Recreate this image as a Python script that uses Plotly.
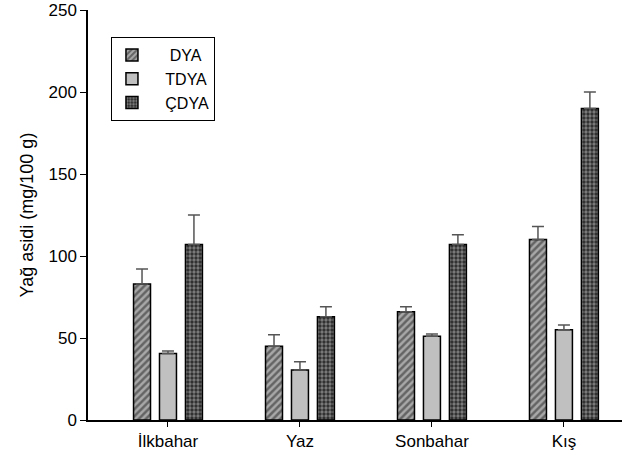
import plotly.graph_objects as go

categories = ["İlkbahar", "Yaz", "Sonbahar", "Kış"]
series_names = ["DYA", "TDYA", "ÇDYA"]
dya = [83, 45, 66, 110]
dya_err = [9, 7, 3, 8]
tdya = [40.5, 30.5, 51, 55]
tdya_err = [1.5, 5, 1.5, 3]
cdya = [107, 63, 107, 190]
cdya_err = [18, 6, 6, 10]

font = "Liberation Sans, Arial, sans-serif"
err_style = dict(type="data", symmetric=False, color="#555555",
                 thickness=1.5, width=6)
NB = "\u00a0"

fig = go.Figure()
fig.add_trace(go.Bar(
    name=NB * 4 + series_names[0], x=categories, y=dya,
    error_y=dict(err_style, array=dya_err),
    marker=dict(color="#a8a8a8", line=dict(color="black", width=1.5),
                pattern=dict(shape="/", fgcolor="#202020", bgcolor="#a8a8a8",
                             size=5, solidity=0.5)),
))
fig.add_trace(go.Bar(
    name=NB * 3 + series_names[1], x=categories, y=tdya,
    error_y=dict(err_style, array=tdya_err),
    marker=dict(color="#c0c0c0", line=dict(color="black", width=1.5)),
))
fig.add_trace(go.Bar(
    name=NB * 3 + series_names[2], x=categories, y=cdya,
    error_y=dict(err_style, array=cdya_err),
    marker=dict(color="#333333", line=dict(color="black", width=1.5),
                pattern=dict(shape=".", fgcolor="#c8c8c8", bgcolor="#2a2a2a",
                             size=4, solidity=0.55)),
))

fig.update_layout(
    width=622, height=463,
    margin=dict(l=88, r=0, t=10, b=43),
    paper_bgcolor="white", plot_bgcolor="white",
    font=dict(family=font, size=17, color="black"),
    barmode="group", bargap=0.41, bargroupgap=0.346,
    showlegend=True,
    legend=dict(x=0.043, y=0.934, xanchor="left", yanchor="top",
                bordercolor="black", borderwidth=1, bgcolor="white",
                font=dict(family=font, size=16), tracegroupgap=0),
    xaxis=dict(type="category", range=[-0.606, 3.44], showline=True,
               linecolor="black", linewidth=1.5, ticks="outside", ticklen=5,
               tickcolor="black", showgrid=False, zeroline=False,
               tickfont=dict(size=17)),
    yaxis=dict(range=[0, 250], tickvals=[0, 50, 100, 150, 200, 250],
               showline=True, linecolor="black", linewidth=1.5,
               ticks="outside", ticklen=6, tickcolor="black",
               showgrid=False, zeroline=False, tickfont=dict(size=17),
               title=dict(text="Yağ asidi (mg/100 g)", font=dict(size=18),
                          standoff=10)),
)

# remove the default 8px page margin so the figure sits at the window origin
fig.write_html("out.html", config={"displayModeBar": False},
               post_script="document.body.style.margin='0';")
